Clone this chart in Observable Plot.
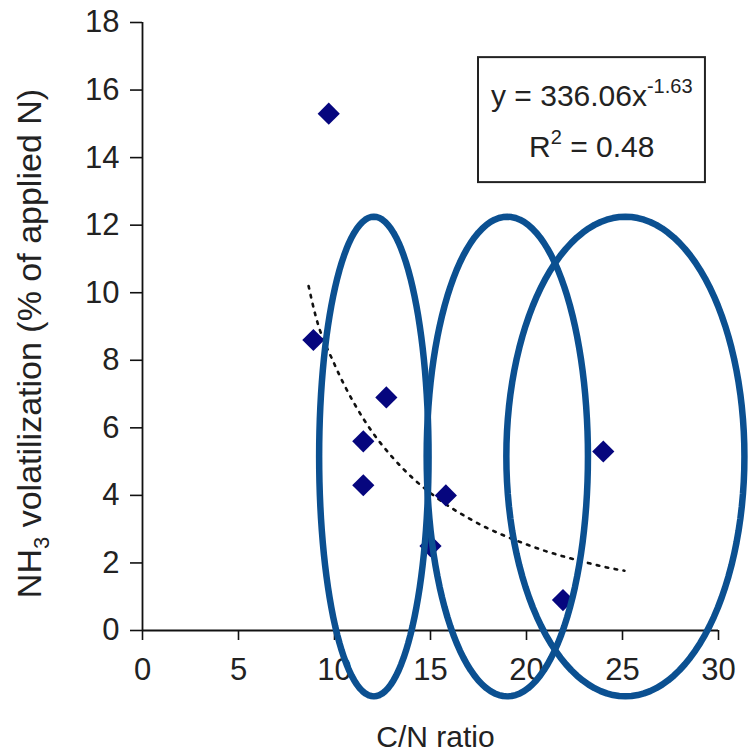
<!DOCTYPE html>
<html><head><meta charset="utf-8">
<script src="https://cdn.jsdelivr.net/npm/d3@7"></script>
<script src="https://cdn.jsdelivr.net/npm/@observablehq/plot@0.6"></script>
<style>body{margin:0;background:#fff}#chart{width:750px;height:753px}</style>
</head><body><div id="chart"></div>
<script>
// --- data ---
const cnRatio = [9.7, 8.9, 12.7, 11.5, 11.5, 15.8, 15.0, 21.9, 24.0];
const nh3Volatilization = [15.3, 8.6, 6.9, 5.6, 4.3, 4.0, 2.5, 0.9, 5.3];

// dotted power trend line
const trendX = [8.65, 9, 10, 11, 12, 13, 14, 15, 16, 17, 18, 19, 20, 21, 22, 23, 24, 25.1];
const trendY = [10.2, 9.35, 7.88, 6.75, 5.85, 5.14, 4.55, 4.07, 3.66, 3.32, 3.02, 2.77, 2.55, 2.35, 2.18, 2.03, 1.89, 1.77];

// highlighted groups (ellipses): centre and radii in data units
const ellipseCx = [12.05, 19.0, 25.15];
const ellipseCy = [5.15, 5.15, 5.15];
const ellipseRx = [2.85, 4.2, 6.2];
const ellipseRy = [7.1, 7.1, 7.1];

const xTicks = [0, 5, 10, 15, 20, 25, 30];
const yTicks = [0, 2, 4, 6, 8, 10, 12, 14, 16, 18];

const eqMain = "y = 336.06x";
const eqExp = "-1.63";
const r2Main = "R";
const r2Exp = "2";
const r2Rest = " = 0.48";
const xLabel = "C/N ratio";
const yLabelA = "NH";
const yLabelSub = "3";
const yLabelB = " volatilization (% of applied N)";

// --- tables built from the arrays ---
const points = cnRatio.map((x, i) => ({x, y: nh3Volatilization[i]}));
const trend = trendX.map((x, i) => ({x, y: trendY[i]}));
const ellipsePts = [];
ellipseCx.forEach((cx, k) => {
  for (let j = 0; j <= 120; j++) {
    const a = (j / 120) * 2 * Math.PI;
    ellipsePts.push({id: k, x: cx + ellipseRx[k] * Math.cos(a), y: ellipseCy[k] + ellipseRy[k] * Math.sin(a)});
  }
});

const FONT = "'Liberation Sans', Arial, Helvetica, sans-serif";
const eqString = eqMain + eqExp;
const r2String = r2Main + r2Exp + r2Rest;
const yLabelString = yLabelA + yLabelSub + yLabelB;

const svg = Plot.plot({
  width: 750,
  height: 753,
  marginLeft: 142,
  marginRight: 32,
  marginTop: 22,
  marginBottom: 123,
  style: {fontFamily: FONT, background: "white", color: "#222", overflow: "visible"},
  x: {domain: [0, 30]},
  y: {domain: [0, 18]},
  marks: [
    Plot.axisY({ticks: yTicks, tickSize: 12, tickPadding: 11, fontSize: 31, label: null, stroke: "#111", strokeWidth: 1.6}),
    Plot.axisX({ticks: xTicks, tickSize: 10, tickPadding: 17, fontSize: 31, label: null, stroke: "#111", strokeWidth: 1.6}),
    Plot.ruleX([0], {stroke: "#111", strokeWidth: 1.8}),
    Plot.ruleY([0], {stroke: "#111", strokeWidth: 1.8}),
    Plot.text([xLabel], {frameAnchor: "bottom", dy: 116, dx: 5, fontSize: 30, fill: "#222"}),
    Plot.text([yLabelString], {frameAnchor: "left", textAnchor: "middle", dx: -112, dy: 17, rotate: -90, fontSize: 34, fill: "#222"}),
    Plot.rect([0], {x1: 17.5, x2: 29.32, y1: 13.26, y2: 16.96, stroke: "#222", strokeWidth: 2, fill: "white"}),
    Plot.text([eqString], {x: 23.4, y: 15.8, fontSize: 30, fill: "#222"}),
    Plot.text([r2String], {x: 23.4, y: 14.3, fontSize: 30, fill: "#222"}),
    Plot.line(trend, {x: "x", y: "y", stroke: "#111", strokeWidth: 2.6, strokeDasharray: "2.6,6.5", curve: "monotone-x"}),
    Plot.dot(points, {x: "x", y: "y", symbol: "diamond2", r: 10, fill: "#06067e", stroke: "none"}),
    Plot.line(ellipsePts, {x: "x", y: "y", z: "id", stroke: "#0b5091", strokeWidth: 6.5, clip: false})
  ]
});

function rich(root, plain, parts) {
  d3.select(root).selectAll("text").filter(function () { return this.textContent === plain; }).each(function () {
    const t = d3.select(this);
    t.selectAll("*").remove();
    t.text(null);
    let cur = 0;
    parts.forEach(p => {
      const ts = t.append("tspan").text(p.text);
      const target = p.shift || 0;
      if (target !== cur) { ts.attr("dy", target - cur); cur = target; }
      if (p.size) ts.attr("font-size", p.size);
    });
  });
}
rich(svg, eqString, [{text: eqMain}, {text: eqExp, shift: -13, size: 20}]);
rich(svg, r2String, [{text: r2Main}, {text: r2Exp, shift: -13, size: 20}, {text: r2Rest, shift: 0}]);
rich(svg, yLabelString, [{text: yLabelA}, {text: yLabelSub, shift: 8, size: 22}, {text: yLabelB, shift: 0}]);

document.getElementById("chart").appendChild(svg);
</script>
</body></html>
